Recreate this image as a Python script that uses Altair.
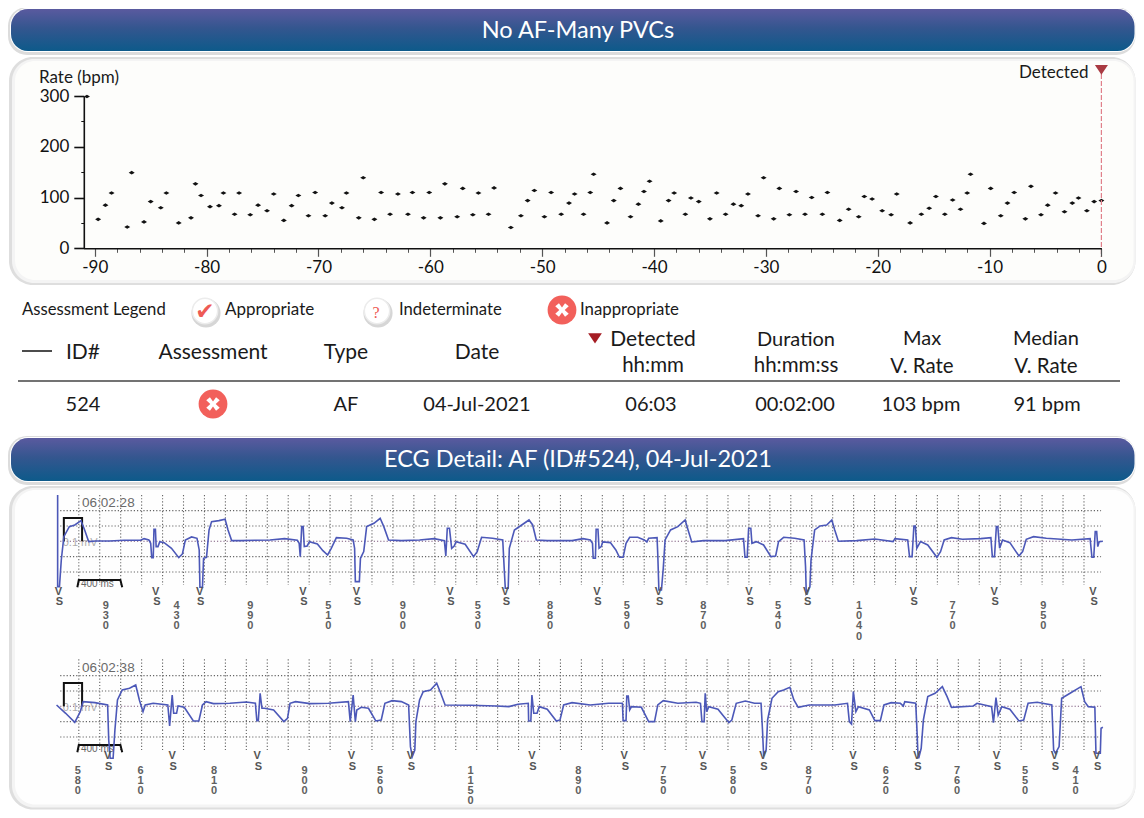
import altair as alt
import pandas as pd

# ---------- rate plot (minutes before detection, bpm) ----------
rate_min = [-90.7,-89.7,-89.05,-88.5,-87.1,-86.7,-85.6,-85.0,-84.1,-83.6,-82.5,-81.4,-81.0,-80.5,-79.7,-78.9,-78.5,-77.5,-77.1,-76.1,
 -75.4,-74.6,-74.0,-73.1,-72.4,-71.8,-70.9,-70.3,-69.4,-68.8,-67.9,-67.5,-66.4,-66.0,-65.0,-64.4,-63.6,-62.9,-62.0,-61.6,
 -60.6,-60.1,-59.1,-58.7,-57.6,-57.1,-56.2,-55.7,-54.8,-54.3,-52.8,-51.9,-51.3,-50.7,-49.8,-49.2,-48.3,-47.6,-47.1,-46.3,
 -45.7,-45.4,-44.2,-43.6,-43.0,-42.1,-41.4,-40.9,-40.4,-39.4,-38.7,-38.2,-37.2,-36.7,-36.0,-35.0,-34.4,-33.6,-32.9,-32.2,
 -31.6,-30.7,-30.2,-29.3,-28.8,-27.9,-27.3,-26.5,-25.9,-24.95,-24.5,-23.4,-22.6,-21.7,-21.2,-20.5,-19.6,-18.8,-18.3,-17.1,
 -16.1,-15.4,-14.8,-14.0,-13.3,-12.6,-12.0,-11.7,-10.5,-9.9,-9.0,-8.4,-7.8,-6.8,-6.3,-5.4,-4.8,-4.1,-3.3,-2.6,-2.05,-1.3,-0.65,0]
rate_bpm = [299,57,85,109,42,149,52,92,80,109,50,60,127,104,82,84,109,67,109,66,
 85,74,107,55,84,104,64,110,64,89,80,109,60,139,57,110,67,107,67,110,
 60,110,60,127,62,118,66,109,67,119,41,64,94,114,62,110,67,89,107,67,
 110,146,50,94,118,62,87,112,132,54,94,109,67,99,92,58,109,67,87,84,
 107,64,139,58,118,66,112,67,100,67,110,55,77,62,102,97,74,66,107,50,
 67,79,102,67,95,77,109,146,49,118,64,89,110,58,122,66,85,109,72,89,99,74,92,94]
x_major = [-90,-80,-70,-60,-50,-40,-30,-20,-10,0]
x_minor = [-88,-86,-84,-82,-78,-76,-74,-72,-68,-66,-64,-62,-58,-56,-54,-52,-48,-46,-44,-42,-38,-36,-34,-32,-28,-26,-24,-22,-18,-16,-14,-12,-8,-6,-4,-2]
y_major = [0,100,200,300]
y_minor = [50,150,250]

# ---------- table ----------
table_head = ["ID#", "Assessment", "Type", "Date"]
table_row = ["524", "AF", "04-Jul-2021", "06:03", "00:02:00", "103 bpm", "91 bpm"]

# ---------- ECG strips, digitised (t, amplitude above the baseline) ----------
e1 = [(158,45),(158,320),(163,320),(168,240),(175,170),(190,140),(205,135),(222,122),(232,150),(243,185),(262,183),(300,183),(340,181),(385,181),(395,176),(408,180),(413,190),(416,233),(420,233),(422,148),(426,148),(428,200),(433,200),(438,185),(450,188),(470,205),(490,233),(500,222),(508,180),(525,171),(540,175),(546,210),(548,322),(555,322),(558,235),(566,232),(573,150),(580,125),(600,122),(617,118),(625,150),(635,182),(660,182),(700,181),(740,180),(780,176),(815,181),(820,190),(823,230),(827,140),(831,140),(834,200),(842,198),(848,185),(870,192),(885,212),(898,225),(908,205),(922,173),(950,175),(968,180),(972,205),(974,305),(985,305),(988,235),(997,215),(1005,140),(1025,130),(1042,115),(1052,140),(1065,180),(1100,182),(1150,180),(1190,176),(1218,182),(1222,228),(1226,145),(1232,145),(1238,205),(1245,198),(1250,185),(1275,193),(1298,230),(1308,215),(1320,172),(1350,175),(1378,180),(1382,265),(1385,325),(1393,325),(1396,205),(1410,150),(1430,135),(1450,120),(1460,135),(1470,180),(1500,182),(1568,182)]
e1b = [(30,176),(50,180),(56,190),(58,235),(64,235),(66,148),(71,148),(74,205),(80,200),(84,186),(105,188),(120,210),(130,232),(140,232),(148,190),(158,172),(180,172),(198,180),(205,186),(210,175),(233,173),(235,225),(238,330),(245,330),(250,265),(255,180),(270,150),(290,140),(310,120),(318,150),(328,186),(360,182),(420,182),(470,176),(474,232),(480,232),(484,145),(490,145),(493,190),(505,185),(525,195),(545,230),(558,228),(566,185),(580,172),(610,175),(636,180),(640,260),(642,340),(652,320),(655,240),(665,150),(680,138),(698,135),(712,120),(720,150),(730,184),(780,182),(830,177),(880,185),(885,176),(920,180),(925,230),(932,230),(937,138),(941,138),(945,205),(955,185),(975,195),(1000,232),(1010,215),(1020,180),(1040,173),(1070,178),(1120,176),(1148,173),(1152,230),(1158,230),(1163,140),(1167,140),(1172,205),(1180,180),(1200,188),(1225,228),(1235,215),(1245,178),(1265,170),(1300,175),(1370,180),(1420,176),(1425,232),(1430,232),(1434,155),(1438,155),(1441,200),(1445,185),(1455,184)]
e2 = [(155,165),(180,190),(205,217),(220,185),(228,155),(260,158),(295,165),(298,270),(302,325),(310,325),(315,240),(322,150),(335,120),(355,115),(372,105),(382,150),(392,185),(398,165),(420,160),(460,165),(465,228),(472,135),(476,190),(484,190),(488,168),(505,172),(530,213),(545,213),(555,165),(565,155),(585,161),(630,160),(675,156),(700,160),(704,212),(708,212),(713,130),(718,175),(725,175),(750,180),(778,215),(788,205),(795,160),(810,155),(850,161),(900,160),(955,155),(960,215),(968,135),(974,215),(978,180),(990,172),(1010,175),(1030,213),(1045,210),(1055,160),(1075,152),(1100,155),(1120,165),(1125,290),(1130,320),(1137,300),(1140,215),(1150,150),(1160,125),(1180,120),(1197,100),(1208,130),(1220,165),(1290,166),(1360,168),(1395,170),(1420,163),(1448,160),(1449,213),(1455,213),(1458,135),(1463,190),(1472,190),(1478,170),(1500,178),(1525,213),(1535,210),(1545,165),(1568,158)]
e2b = [(50,165),(100,160),(138,160),(140,212),(148,212),(150,138),(154,138),(158,180),(163,170),(190,172),(210,215),(226,215),(235,165),(250,152),(290,160),(340,157),(352,160),(356,215),(362,215),(365,130),(369,185),(375,170),(400,178),(420,205),(430,218),(438,210),(450,160),(475,153),(500,160),(518,160),(522,240),(525,315),(532,300),(536,210),(548,145),(565,125),(580,120),(597,112),(608,150),(620,172),(650,165),(720,165),(755,160),(760,215),(766,222),(771,125),(778,185),(785,170),(815,180),(830,212),(845,212),(855,165),(875,158),(900,160),(908,168),(912,155),(942,160),(945,230),(948,310),(950,325),(957,295),(963,210),(975,140),(995,130),(1015,110),(1028,140),(1040,172),(1100,168),(1110,160),(1150,170),(1155,218),(1162,143),(1168,195),(1178,170),(1200,178),(1225,213),(1238,210),(1250,160),(1275,157),(1315,165),(1320,300),(1325,310),(1335,290),(1342,145),(1365,130),(1395,110),(1405,155),(1415,170),(1433,172),(1436,310),(1448,310),(1450,235),(1455,232)]
HALF = 1568
vs1 = [160,427,547,830,977,1233,1385]+[HALF+v for v in (68,237,485,643,935,1157,1428)]
rr1_x = [290,484,686,900,1104,1310,1508]+[HALF+v for v in (150,360,565,787,1043,1292)]
rr1 = ["930","430","990","510","900","530","880","590","870","540","1040","770","950"]
vs2 = [295,472,705,963,1125,1458]+[HALF+v for v in (143,357,523,770,945,1163,1322,1438)]
rr2_x = [213,385,587,835,1042,1290]+[HALF+v for v in (17,250,441,648,860,1055,1242,1380)]
rr2 = ["580","610","810","900","560","1150","890","750","580","870","620","760","550","410"]
cal_pulse_t = [175,175,225,225]
cal_pulse_a = [0,70,70,0]
cal_bar_t = [212,216,330,335]
cal_bar_a = [-138,-116,-116,-138]
grid_v = [216 + 57.4*k for k in range(49)]
grid_h = [92,46,0,-46,-92]

OFF = 8
W, H = 1128, 802
RIGHT = 1135.5
FONT = "Lato"

def px(v): return v - OFF

layers = []

def rect(x, x2, y, y2, fill, radius=0):
    layers.append(alt.Chart().mark_rect(cornerRadius=radius, fill=fill).encode(
        x=alt.value(px(x)), x2=alt.value(px(x2)), y=alt.value(px(y)), y2=alt.value(px(y2))))

def text(s, x, y, size=20, color="#1a1a1a", align="center", font=FONT):
    layers.append(alt.Chart().mark_text(text=s, fontSize=size, color=color, align=align, baseline="middle",
                                        font=font).encode(x=alt.value(px(x)), y=alt.value(px(y + 1.5))))

def shape(path, x, y, size, fill, stroke=None, sw=0):
    kw = {"shape": path, "size": size, "fill": fill, "filled": True, "opacity": 1}
    if stroke:
        kw.update(stroke=stroke, strokeWidth=sw)
    layers.append(alt.Chart().mark_point(**kw).encode(x=alt.value(px(x)), y=alt.value(px(y))))

head_grad = alt.Gradient(gradient="linear", x1=0, x2=0, y1=0, y2=1,
    stops=[alt.GradientStop(offset=0, color="#5a5a9f"), alt.GradientStop(offset=0.45, color="#34568f"), alt.GradientStop(offset=1, color="#0d5a8a")])

def header(y0, y1, s):
    rect(8, RIGHT, y0-2, y1+4, "#dcdcdc", radius=19)
    rect(10, RIGHT, y0-1, y1+1, "#ffffff", radius=18)
    rect(11, RIGHT-1, y0, y1, head_grad, radius=17)
    text(s, 578, (y0+y1)/2-1, size=23.5, color="#ffffff")

def panel(y0, y1, fill):
    rect(9, RIGHT, y0, y1, "#dedede", radius=24)
    rect(12, RIGHT, y0+2, y1-2, "#f4f4f4", radius=22)
    rect(15, RIGHT-2, y0+4, y1-5, fill, radius=20)

# ---------- frames ----------
header(9, 51, "No AF-Many PVCs")
panel(57, 285, "#fdfdfb")
header(438, 481, "ECG Detail: AF (ID#524), 04-Jul-2021")
panel(486, 809.5, "#fefefe")

# ---------- rate chart ----------
sx = alt.Scale(domain=[-91, 0], range=[px(83.6), px(1101.4)])
sy = alt.Scale(domain=[0, 300], range=[px(248.3), px(96)])
ax_off = px(248.3) - H
ay_off = -px(83.8)
axis_font = dict(labelFont=FONT, labelFontSize=17, labelColor="#111111")

df_rate = pd.DataFrame({"min": rate_min, "bpm": rate_bpm})
layers.append(alt.Chart(pd.DataFrame({"m": x_minor})).mark_point(opacity=0).encode(
    x=alt.X("m:Q", scale=sx, axis=alt.Axis(orient="bottom", offset=ax_off, values=x_minor, labels=False, domain=False, zindex=1,
                                           grid=False, title=None, tickSize=4, tickColor="#555555", tickWidth=1)),
    y=alt.value(0)))
layers.append(alt.Chart(pd.DataFrame({"b": y_minor})).mark_point(opacity=0).encode(
    y=alt.Y("b:Q", scale=sy, axis=alt.Axis(orient="left", offset=ay_off, values=y_minor, labels=False, domain=False, zindex=1,
                                           grid=False, title=None, tickSize=3, tickColor="#111111", tickWidth=1)),
    x=alt.value(0)))
layers.append(alt.Chart(df_rate).mark_point(
    shape="M-1,0L0,-0.6L1,0L0,0.6Z", filled=True, fill="#111111", size=36, opacity=1).encode(
    x=alt.X("min:Q", scale=sx, axis=alt.Axis(orient="bottom", offset=ax_off, values=x_major, grid=False, title=None, zindex=1,
                                             labelExpr="'' + datum.value", labelFlush=False, labelBound=False,
                                             domainColor="#111111", domainWidth=1.6, tickColor="#555555", tickWidth=1.2, tickSize=8,
                                             labelPadding=3, **axis_font)),
    y=alt.Y("bpm:Q", scale=sy, axis=alt.Axis(orient="left", offset=ay_off, values=y_major, format="d", grid=False, title=None, zindex=1,
                                             domainColor="#111111", domainWidth=1.6, tickColor="#111111", tickWidth=1.6, tickSize=10,
                                             labelPadding=5, **axis_font))))
layers.append(alt.Chart().mark_rule(color="#e0808a", strokeDash=[5, 2], strokeWidth=1.2).encode(
    x=alt.value(px(1101.4)), y=alt.value(px(74)), y2=alt.value(px(257))))
text("Rate (bpm)", 39, 76, size=17, align="left")
text("Detected", 1019, 71.5, size=17, align="left")
TRI = "M-1,-0.7L1,-0.7L0,0.8Z"
shape(TRI, 1101.4, 69.5, 170, "#a93a42")

# ---------- legend + table ----------
text("Assessment Legend", 22, 308, size=16.7, align="left")
text("Appropriate", 225, 308.5, size=17, align="left")
text("Indeterminate", 399, 308.5, size=16.7, align="left")
text("Inappropriate", 580, 308.5, size=16.8, align="left")
for cx in (205, 377):
    shape("circle", cx+1, 313, 850, "#d6d6d6")
    shape("circle", cx, 311, 640, "#ffffff", stroke="#ececec", sw=1.5)
text("\u2714", 205, 310, size=23, color="#ee5a55", font="DejaVu Sans")
text("?", 376, 311, size=16, color="#ee5a55", font="Liberation Serif")
X_MARK = "M-0.25,-0.55L0,-0.2L0.25,-0.55L0.55,-0.3L0.22,0L0.55,0.3L0.25,0.55L0,0.2L-0.25,0.55L-0.55,0.3L-0.22,0L-0.55,-0.3Z"
shape("circle", 562, 310, 830, "#f2605b")
shape(X_MARK, 562, 310, 600, "#ffffff")

layers.append(alt.Chart().mark_rule(color="#111111", strokeWidth=1.5).encode(
    x=alt.value(px(22)), x2=alt.value(px(52)), y=alt.value(px(351))))
for s, cx in zip(table_head, (83, 213, 346, 477)):
    text(s, cx, 351, size=21)
shape(TRI, 595, 338, 190, "#a51d24")
text("Detected", 653, 338, size=21)
text("hh:mm", 653, 364, size=20.5)
text("Duration", 796, 338, size=20)
text("hh:mm:ss", 796, 364, size=20.5)
text("Max", 922, 337, size=20)
text("V. Rate", 922, 365, size=20.5)
text("Median", 1046, 337, size=20)
text("V. Rate", 1046, 365, size=20.5)
layers.append(alt.Chart().mark_rule(color="#444444", strokeWidth=1.4).encode(
    x=alt.value(px(18)), x2=alt.value(px(1120)), y=alt.value(px(381))))
for s, cx in zip(table_row, (83, 346, 477, 651, 795, 921, 1047)):
    text(s, cx, 403, size=20)
shape("circle", 213, 404, 830, "#f2605b")
shape(X_MARK, 213, 404, 600, "#ffffff")

# ---------- ECG strips ----------
T_DOMAIN = [0, 2 * HALF]
T_RANGE = [px(0), px(2 * HALF / 2.741)]

def strip(pts_a, pts_b, base, vs, rr_x, rr, v_top, v_bottom, y_v, y_s, y_d, d_step, stamp, y_st, base_px):
    st = alt.Scale(domain=T_DOMAIN, range=T_RANGE)
    sa = alt.Scale(domain=[-400, 200], range=[px(base_px + 400/3), px(base_px - 200/3)])
    tx = alt.X("t:Q", scale=st, axis=None)
    ay = alt.Y("a:Q", scale=sa, axis=None)
    # grid
    vg = pd.DataFrame({"t": grid_v, "a": base - v_top, "a2": base - v_bottom})
    layers.append(alt.Chart(vg).mark_rule(color="#666666", strokeDash=[1.2, 2], strokeWidth=1.1).encode(
        x=tx, y=ay, y2="a2:Q"))
    hg = pd.DataFrame({"a": grid_h, "t": 165, "t2": HALF + 1450, "g": ["d", "d", "m", "d", "d"]})
    layers.append(alt.Chart(hg).mark_rule(strokeDash=[1.2, 2], strokeWidth=1.1).encode(
        y=ay, x=tx, x2="t2:Q",
        color=alt.Color("g:N", legend=None, scale=alt.Scale(domain=["d", "m"], range=["#666666", "#7d5a7d"]))))
    # time stamp and calibration
    layers.append(alt.Chart(pd.DataFrame({"t": [225], "a": [base - y_st], "s": [stamp]})).mark_text(
        align="left", baseline="middle", font="Liberation Sans", fontSize=13.5, color="#6a6a6a").encode(
        x=tx, y=ay, text="s:N"))
    layers.append(alt.Chart(pd.DataFrame({"t": [172], "a": [-6], "s": ["0.1 mV"]})).mark_text(
        align="left", baseline="middle", font="Liberation Sans", fontSize=11, color="#999999", opacity=0.8).encode(
        x=tx, y=ay, text="s:N"))
    layers.append(alt.Chart(pd.DataFrame({"t": [222], "a": [-128], "s": ["400 ms"]})).mark_text(
        align="left", baseline="middle", font="Liberation Sans", fontSize=10, color="#666666").encode(
        x=tx, y=ay, text="s:N"))
    layers.append(alt.Chart(pd.DataFrame({"t": cal_pulse_t, "a": cal_pulse_a, "o": list(range(4))})).mark_line(
        color="#111111", strokeWidth=2).encode(x=tx, y=ay, order="o:O"))
    layers.append(alt.Chart(pd.DataFrame({"t": cal_bar_t, "a": cal_bar_a, "o": list(range(4))})).mark_line(
        color="#111111", strokeWidth=2).encode(x=tx, y=ay, order="o:O"))
    # trace
    pts = [(t, base - z) for t, z in pts_a] + [(HALF + t, base - z) for t, z in pts_b]
    df = pd.DataFrame(pts, columns=["t", "a"])
    df["o"] = range(len(df))
    layers.append(alt.Chart(df).mark_line(color="#4c58b8", strokeWidth=1.6, interpolate="linear").encode(
        x=tx, y=ay, order="o:O"))
    # V / S beat marks
    rows = [{"t": t, "a": base - y_v, "s": "V"} for t in vs] + [{"t": t + 3, "a": base - y_s, "s": "S"} for t in vs]
    layers.append(alt.Chart(pd.DataFrame(rows)).mark_text(
        font="Liberation Sans", fontSize=11, fontWeight="bold", color="#555555", baseline="middle").encode(
        x=tx, y=ay, text="s:N"))
    # stacked RR-interval digits
    rows = []
    for t, lab in zip(rr_x, rr):
        for i, ch in enumerate(lab):
            rows.append({"t": t, "a": base - (y_d + i * d_step), "s": ch})
    layers.append(alt.Chart(pd.DataFrame(rows)).mark_text(
        font="Liberation Sans", fontSize=11, fontWeight="bold", color="#606060", baseline="middle").encode(
        x=tx, y=ay, text="s:N"))

strip(e1, e1b, 184, vs1, rr1_x, rr1, 45, 315, 335, 367, 377, 31, "06:02:28", 70, 541.3)
strip(e2, e2b, 169, vs2, rr2_x, rr2, 28, 300, 318, 350, 362, 30, "06:02:38", 54, 706.3)

chart = alt.layer(*layers).resolve_scale(x="independent", y="independent").properties(
    width=W, height=H, padding=0, autosize=alt.AutoSizeParams(type="none"),
    background="#ffffff").configure_view(stroke=None)

chart.save("out.html", embed_options={"renderer": "svg", "actions": False})
